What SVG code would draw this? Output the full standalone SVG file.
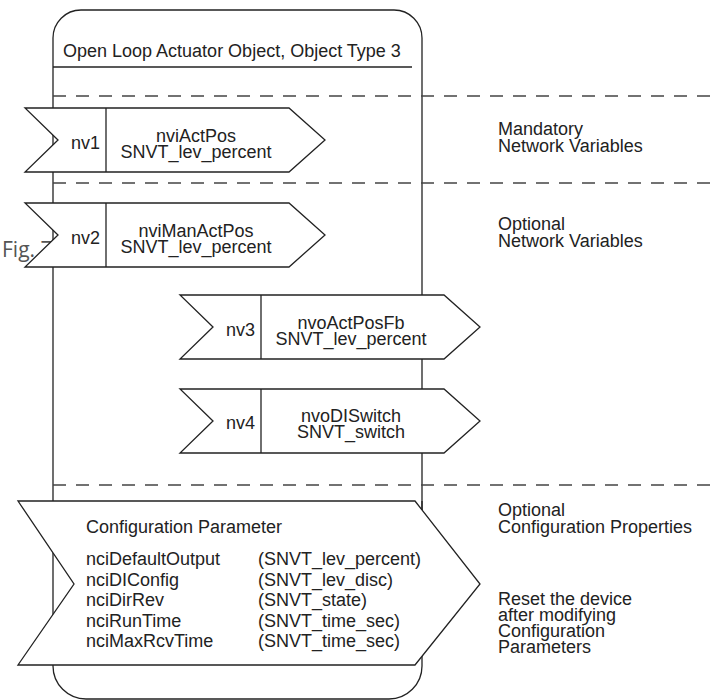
<svg xmlns="http://www.w3.org/2000/svg" width="712" height="700" viewBox="0 0 712 700">
<style>
  .t { font-family: "Liberation Sans", Arial, Helvetica, sans-serif; font-size: 18px; fill: #222; }
  .m { text-anchor: middle; }
  .e { text-anchor: end; }
  .ln { fill: none; stroke: #222; stroke-width: 1.3; }
  .dash { fill: none; stroke: #444; stroke-width: 1.3; stroke-dasharray: 13 10; }
  .shape { fill: #fff; stroke: #222; stroke-width: 1.3; stroke-linejoin: miter; }
  .fig { font-family: "Open Sans", Lato, sans-serif; font-size: 21px; fill: #555; }
</style>
<rect width="712" height="700" fill="#fff"/>
<text class="fig" x="2" y="257">Fig. 7</text>
<g id="frame">
  <path class="ln" d="M53,38 A28,28 0 0 1 81,10 L394,10 A28,28 0 0 1 422,38 L422,666 A33,33 0 0 1 389,699 L86,699 A33,33 0 0 1 53,666 Z"/>
  <line class="ln" x1="53" y1="67" x2="412" y2="67"/>
  <text class="t" x="63" y="57">Open Loop Actuator Object, Object Type 3</text>
</g>
<g id="separators">
  <line class="dash" x1="53" y1="96" x2="712" y2="96"/>
  <line class="dash" x1="53" y1="183" x2="712" y2="183"/>
  <line class="dash" x1="53" y1="485" x2="712" y2="485"/>
</g>
<g id="nv1">
  <polygon class="shape" points="25,108 289,108 325,140 289,172 25,172 58,140"/>
  <line class="ln" x1="106" y1="108" x2="106" y2="172"/>
  <text class="t e" x="100" y="149">nv1</text>
  <text class="t m" x="196" y="141.5">nviActPos</text>
  <text class="t m" x="196" y="158">SNVT_lev_percent</text>
</g>
<g id="nv2">
  <polygon class="shape" points="25,203 289,203 325,235 289,267 25,267 58,235"/>
  <line class="ln" x1="106" y1="203" x2="106" y2="267"/>
  <text class="t e" x="100" y="244">nv2</text>
  <text class="t m" x="196" y="236.5">nviManActPos</text>
  <text class="t m" x="196" y="253">SNVT_lev_percent</text>
</g>
<g id="nv3">
  <polygon class="shape" points="180,295 444,295 480,327 444,359 180,359 213,327"/>
  <line class="ln" x1="261" y1="295" x2="261" y2="359"/>
  <text class="t e" x="255" y="336">nv3</text>
  <text class="t m" x="351" y="328.5">nvoActPosFb</text>
  <text class="t m" x="351" y="345">SNVT_lev_percent</text>
</g>
<g id="nv4">
  <polygon class="shape" points="180,389 444,389 480,421 444,453 180,453 213,421"/>
  <line class="ln" x1="261" y1="389" x2="261" y2="453"/>
  <text class="t e" x="255" y="429">nv4</text>
  <text class="t m" x="351" y="421.5">nvoDISwitch</text>
  <text class="t m" x="351" y="438">SNVT_switch</text>
</g>
<g id="config">
  <polygon class="shape" points="18,501 415,501 480,584 415,665 18,665 74,584"/>
  <line class="ln" x1="422" y1="501" x2="422" y2="510"/>
  <text class="t" x="86" y="533">Configuration Parameter</text>
  <text class="t" x="86" y="565">nciDefaultOutput</text>
  <text class="t" x="86" y="585.5">nciDIConfig</text>
  <text class="t" x="86" y="606">nciDirRev</text>
  <text class="t" x="86" y="626.5">nciRunTime</text>
  <text class="t" x="86" y="647">nciMaxRcvTime</text>
  <text class="t" x="258" y="565">(SNVT_lev_percent)</text>
  <text class="t" x="258" y="585.5">(SNVT_lev_disc)</text>
  <text class="t" x="258" y="606">(SNVT_state)</text>
  <text class="t" x="258" y="626.5">(SNVT_time_sec)</text>
  <text class="t" x="258" y="647">(SNVT_time_sec)</text>
</g>
<g id="labels">
  <text class="t" x="498" y="135">Mandatory</text>
  <text class="t" x="498" y="151.5">Network Variables</text>
  <text class="t" x="498" y="230">Optional</text>
  <text class="t" x="498" y="246.5">Network Variables</text>
  <text class="t" x="498" y="516">Optional</text>
  <text class="t" x="498" y="532.5">Configuration Properties</text>
  <text class="t" x="498" y="604.5">Reset the device</text>
  <text class="t" x="498" y="620.5">after modifying</text>
  <text class="t" x="498" y="636.5">Configuration</text>
  <text class="t" x="498" y="652.5">Parameters</text>
</g>
</svg>
